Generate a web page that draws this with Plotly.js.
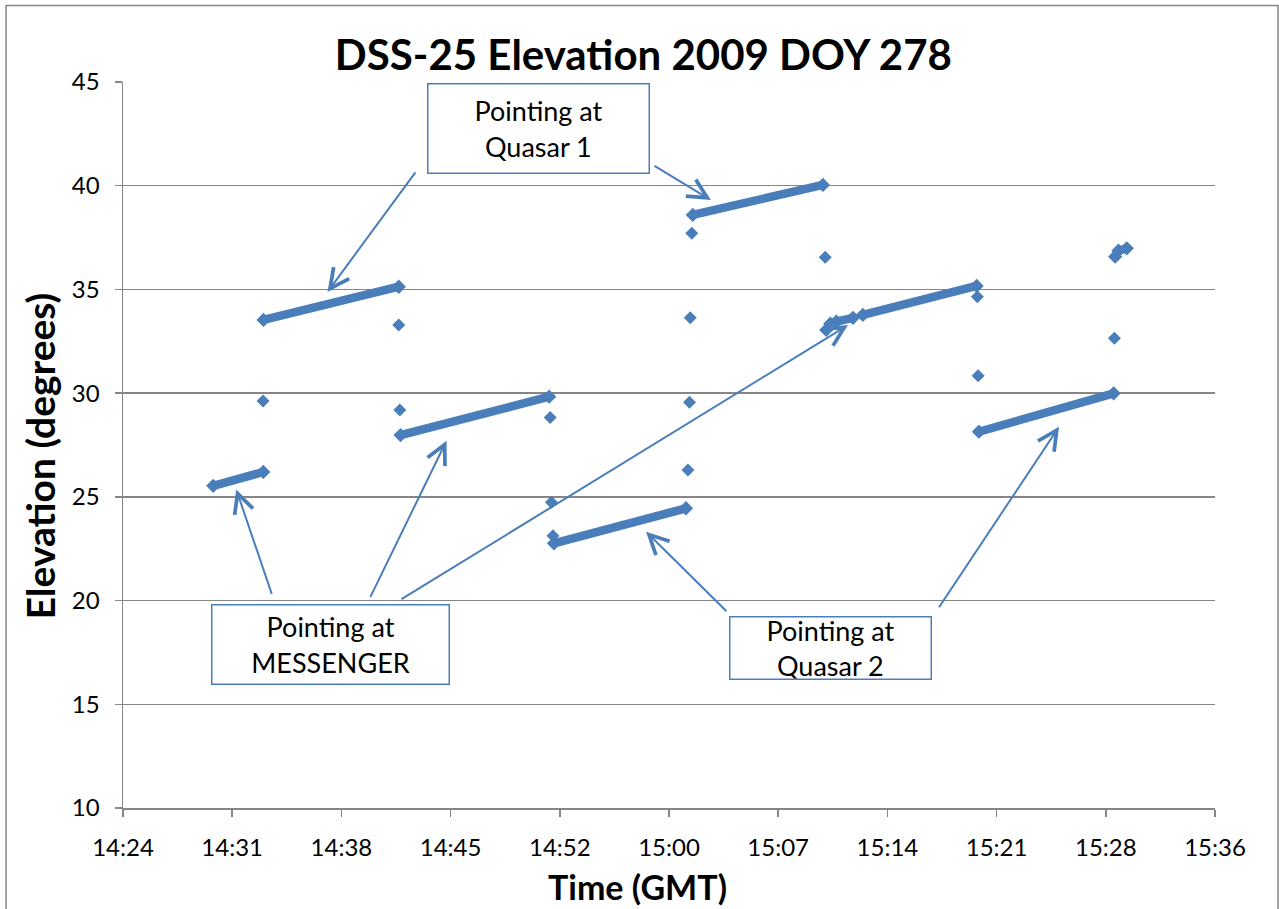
<!DOCTYPE html>
<html>
<head>
<meta charset="utf-8">
<script src="https://cdn.plot.ly/plotly-3.0.1.min.js"></script>
<style>
  html, body { margin: 0; padding: 0; background: #ffffff; }
  #chart { width: 1279px; height: 909px; }
</style>
</head>
<body>
<div id="chart"></div>
<script>
// ---- data (DSS-25 elevation, 2009 DOY 278 = 2009-10-05) ----
const day = '2009-10-05 ';

// dense tracking runs (null separates runs)
const runTime = [
  '14:29:57', '14:33:15', null,
  '14:33:16', '14:42:11', null,
  '14:42:18', '14:52:06', null,
  '14:52:25', '15:01:07', null,
  '15:01:34', '15:10:09', null,
  '15:10:22', '15:10:38', '15:11:02', '15:12:08', null,
  '15:12:47', '15:20:17', null,
  '15:20:26', '15:29:19', null,
  '15:29:25', '15:29:38', '15:30:11'
];
const runElev = [
  25.53, 26.20, null,
  33.53, 35.13, null,
  27.98, 29.83, null,
  22.76, 24.45, null,
  38.59, 40.04, null,
  33.05, 33.35, 33.45, 33.63, null,
  33.77, 35.17, null,
  28.14, 29.99, null,
  36.58, 36.87, 36.98
];

// isolated samples taken while slewing between targets
const slewTime = ['14:33:14', '14:42:11', '14:42:15', '14:52:10', '14:52:15', '14:52:21',
                  '15:01:15', '15:01:21', '15:01:24', '15:01:30', '15:10:18',
                  '15:20:20', '15:20:23', '15:29:22'];
const slewElev = [29.62, 33.29, 29.19, 28.82, 24.74, 23.13,
                  26.30, 29.56, 33.64, 37.71, 36.55,
                  34.65, 30.84, 32.65];

// axis ticks
const tickTimes  = ['14:24:00', '14:31:12', '14:38:24', '14:45:36', '14:52:48', '15:00:00',
                    '15:07:12', '15:14:24', '15:21:36', '15:28:48', '15:36:00'];
const tickLabels = ['14:24', '14:31', '14:38', '14:45', '14:52', '15:00',
                    '15:07', '15:14', '15:21', '15:28', '15:36'];

// callout labels and the points their arrows touch
const boxLabels = ['Pointing at<br>Quasar 1', 'Pointing at<br>MESSENGER', 'Pointing at<br>Quasar 2'];
const arrowTime = ['14:37:29', '15:02:46', '14:31:28', '14:45:20', '15:11:48', '14:58:29', '15:25:43'];
const arrowElev = [34.88, 39.31, 25.36, 27.71, 33.28, 23.32, 28.38];

// ---- styling ----
const BLUE = '#4A7EBB';
const GRAY = '#868686';
const FONT = 'Lato, "Open Sans", "DejaVu Sans", sans-serif';
const withDay = a => a.map(t => (t === null ? null : day + t));

const traces = [
  {
    type: 'scatter',
    mode: 'lines+markers',
    x: withDay(runTime),
    y: runElev,
    connectgaps: false,
    line: { color: BLUE, width: 8.5 },
    marker: { symbol: 'diamond', size: 11, color: BLUE },
    showlegend: false,
    hoverinfo: 'x+y'
  },
  {
    type: 'scatter',
    mode: 'markers',
    x: withDay(slewTime),
    y: slewElev,
    marker: { symbol: 'diamond', size: 10, color: BLUE },
    showlegend: false,
    hoverinfo: 'x+y'
  }
];

// arrow tail offsets (pixels, relative to arrow head)
const arrowOffsets = [[89, -121], [-58, -35], [36, 106], [-77, 158], [-448, 275], [82, 81], [-121, 182]];
const annotations = [];
arrowTime.forEach((t, i) => {
  annotations.push({
    x: day + t, y: arrowElev[i], xref: 'x', yref: 'y',
    ax: arrowOffsets[i][0], ay: arrowOffsets[i][1],
    text: '', showarrow: true,
    arrowcolor: BLUE, arrowwidth: 2, arrowhead: 5, arrowsize: 1.9, standoff: 0
  });
});

// callout boxes (paper coordinates)
const boxGeom = [
  { x: 0.3805, y: 0.9359, w: 220, h: 88 },
  { x: 0.1899, y: 0.2252, w: 236, h: 78 },
  { x: 0.6481, y: 0.2204, w: 200, h: 61 }
];
boxLabels.forEach((txt, i) => {
  const g = boxGeom[i];
  annotations.push({
    x: g.x, y: g.y, xref: 'paper', yref: 'paper',
    xanchor: 'center', yanchor: 'middle',
    text: txt, showarrow: false,
    width: g.w, height: g.h,
    bgcolor: '#ffffff', bordercolor: BLUE, borderwidth: 1.5, borderpad: 0,
    font: { family: FONT, size: 27, color: '#000000' }
  });
});

// axis titles
annotations.push({
  x: 0.4716, y: -0.1075, xref: 'paper', yref: 'paper',
  xanchor: 'center', yanchor: 'middle', showarrow: false,
  text: 'Time (GMT)',
  font: { family: FONT, size: 34, color: '#000000', weight: 'bold' }
});
annotations.push({
  x: -0.076, y: 0.4842, xref: 'paper', yref: 'paper',
  xanchor: 'center', yanchor: 'middle', showarrow: false,
  textangle: -90,
  text: 'Elevation (degrees)',
  font: { family: FONT, size: 39, color: '#000000', weight: 'bold' }
});

const layout = {
  width: 1279,
  height: 909,
  autosize: false,
  margin: { l: 123, r: 64, t: 82, b: 101, pad: 0 },
  paper_bgcolor: '#ffffff',
  plot_bgcolor: '#ffffff',
  title: {
    text: 'DSS-25 Elevation 2009 DOY 278',
    font: { family: FONT, size: 42, color: '#000000', weight: 'bold' },
    xref: 'container', yref: 'container',
    x: 0.503, xanchor: 'center',
    y: 0.9395, yanchor: 'middle'
  },
  xaxis: {
    type: 'date',
    range: [day + '14:24:00', day + '15:36:00'],
    tickmode: 'array',
    tickvals: withDay(tickTimes),
    ticktext: tickLabels,
    showgrid: false,
    zeroline: false,
    showline: true,
    linecolor: GRAY,
    linewidth: 1.5,
    ticks: 'outside',
    ticklen: 7,
    tickwidth: 1.5,
    tickcolor: GRAY,
    ticklabelstandoff: 11,
    tickfont: { family: FONT, size: 24, color: '#000000' }
  },
  yaxis: {
    range: [10, 45],
    tickmode: 'linear',
    tick0: 10,
    dtick: 5,
    showgrid: true,
    gridcolor: GRAY,
    gridwidth: 1.3,
    zeroline: false,
    showline: true,
    linecolor: GRAY,
    linewidth: 1.5,
    ticks: 'outside',
    ticklen: 7,
    tickwidth: 1.5,
    tickcolor: GRAY,
    ticklabelstandoff: 10,
    tickfont: { family: FONT, size: 24, color: '#000000' }
  },
  annotations: annotations,
  shapes: [
    {
      type: 'rect', xref: 'paper', yref: 'paper',
      x0: -0.1071, x1: 1.0577, y0: -0.16, y1: 1.1054,
      line: { color: GRAY, width: 1.5 },
      fillcolor: 'rgba(0,0,0,0)',
      layer: 'below'
    }
  ],
  showlegend: false,
  hovermode: 'closest'
};

Plotly.newPlot('chart', traces, layout, { displayModeBar: false, staticPlot: true });
</script>
</body>
</html>
